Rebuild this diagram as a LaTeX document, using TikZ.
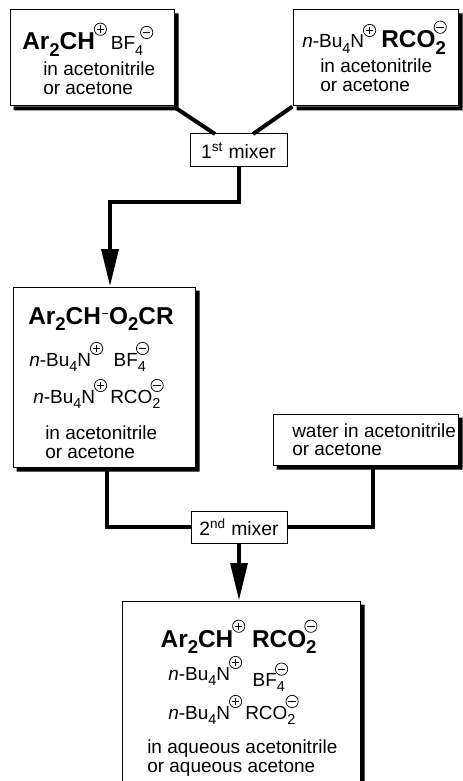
\documentclass[tikz,border=0pt]{standalone}
\usepackage{fontspec}
\setmainfont{Liberation Sans}
\usepackage{graphicx}
\usetikzlibrary{arrows.meta,fit}

\newcommand\chg[1]{\kern-0.8pt\raisebox{0.6em}{\tikz[x=1pt,y=1pt,line width=0.55pt,baseline=0pt]{\draw (4.6,4.6) circle (4.6); \draw (1.8,4.6)--(7.4,4.6); #1}}}
\newcommand\pc{\chg{\draw (4.6,1.8)--(4.6,7.4);}}
\newcommand\mc{\chg{}}
\newcommand\lo[1]{\raisebox{-0.28em}{\scalebox{0.76}{#1}}}
\newcommand\lomc[1]{\rlap{\lo{#1}}\kern-0.6pt\mc}
\newcommand\nbu{\textit{n}-Bu\lo{4}N}
\newcommand\hy{\kern0.8pt\rule[7.5pt]{4.6pt}{0.9pt}\kern0.8pt}

\tikzset{
  box/.style={draw, line width=0.75pt, fill=white, inner sep=0pt},
  mixbox/.style={draw, line width=0.75pt, fill=white, inner sep=0pt,
    font=\fontsize{14.5}{15}\selectfont},
  conn/.style={line width=3pt, line join=miter},
  arr/.style={conn, -{Triangle[length=28pt,width=12.5pt]}},
  txt/.style={anchor=base west, inner sep=0pt, font=\fontsize{14.25}{14.5}\selectfont},
  ctxt/.style={txt, anchor=base},
  ttl/.style={anchor=base west, inner sep=0pt, font=\fontsize{18.3}{20}\selectfont\bfseries},
  cttl/.style={ttl, anchor=base},
  shad/.style={fill=black},
}
\newcommand\shadowof[1]{\fill[shad] ([shift={(0,4)}]#1.north east) -- ([shift={(4,4)}]#1.north east) -- ([shift={(4,4)}]#1.south east) -- ([shift={(4,4)}]#1.south west) -- ([shift={(4,0)}]#1.south west) -- (#1.south east) -- cycle;}

\begin{document}
\begin{tikzpicture}[x=0.75pt, y=-0.75pt]
\useasboundingbox (0,0) rectangle (463,781);
\clip (0,0) rectangle (463,781);
\fill[white] (0,0) rectangle (463,781);

% boxes
\node[box, fit={(10,10) (174,106)}] (box1) {};
\node[box, fit={(293,10) (458,106)}] (box2) {};
\node[mixbox, fit={(190,134) (287,167)}] (m1) {};
\node[box, fit={(13,287) (195,467)}] (box3) {};
\node[box, fit={(273,414) (458,465)}] (box4) {};
\node[mixbox, fit={(191,511) (287,543)}] (m2) {};
\node[box, fit={(122,601) (360,820)}] (box5) {};

\shadowof{box1}
\shadowof{box2}
\shadowof{box3}
\shadowof{box4}
\shadowof{box5}

% mixer labels
\node[mixbox, draw=none, fill=none, anchor=center] (m1t) at (m1.center) {1\textsuperscript{st} mixer};
\node[mixbox, draw=none, fill=none, anchor=center] (m2t) at (m2.center) {2\textsuperscript{nd} mixer};

% box 1
\node[ttl] (b1t) at (22,50) {Ar\lo{2}CH\pc\,{\mdseries\fontsize{14.25}{15}\selectfont BF\lo{4}\kern-1.5pt\mc}};
\node[txt] (b1a) at (43,76) {in acetonitrile};
\node[txt] (b1b) at (43,95) {or acetone};

% box 2
\node[txt] (b2t) at (302,48) {\nbu\pc\ {\fontsize{18.3}{20}\selectfont\bfseries RCO\lomc{2}}};
\node[txt] (b2a) at (320,73) {in acetonitrile};
\node[txt] (b2b) at (320,92) {or acetone};

% box 3
\node[ttl] (b3t) at (28,324) {Ar\lo{2}CH\hy O\lo{2}CR};
\node[txt] (b3c) at (29,366) {\nbu\pc\ \ BF\lomc{4}};
\node[txt] (b3d) at (33,403) {\nbu\pc\,RCO\lomc{2}};
\node[txt] (b3a) at (45,439) {in acetonitrile};
\node[txt] (b3b) at (45,458) {or acetone};

% box 4
\node[txt] (b4a) at (292,437) {water in acetonitrile};
\node[txt] (b4b) at (292,455) {or acetone};

% box 5
\node[cttl] (b5t) at (239,647) {Ar\lo{2}CH\pc\ RCO\lomc{2}};
\node[txt] (b5c) at (168,680) {\nbu\pc\ \ \raisebox{-5pt}{BF\lomc{4}}};
\node[txt] (b5d) at (168,719) {\nbu\pc\,RCO\lomc{2}};
\node[txt] (b5a) at (147,753) {in aqueous acetonitrile};
\node[txt] (b5b) at (147,772) {or aqueous acetone};

% connectors
\coordinate (m1a) at (215,134);
\coordinate (m1b) at (253,134);
\coordinate (k1) at (110,202);
\coordinate (k2) at (107,527);
\coordinate (k3) at (373,527);
\draw[conn] ([shift={(2,2)}]box1.south east) -- (m1a);
\draw[conn] (box2.south west) -- (m1b);
\draw[arr] (m1.south) |- (k1) -- (k1 |- box3.north);
\draw[conn] (k2 |- box3.south) |- (m2.west);
\draw[conn] (k3 |- box4.south) |- (m2.east);
\draw[arr] (m2.south) -- (m2.south |- box5.north);
\end{tikzpicture}
\end{document}
